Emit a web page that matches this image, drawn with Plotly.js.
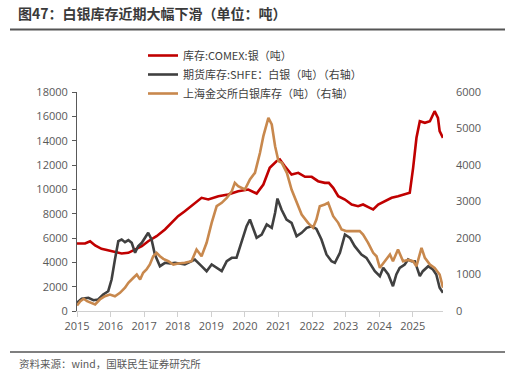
<!DOCTYPE html>
<html>
<head>
<meta charset="utf-8">
<script src="https://cdn.plot.ly/plotly-3.0.1.min.js"></script>
<style>
html,body{margin:0;padding:0;background:#fff;}
#chart{width:515px;height:376px;}
</style>
</head>
<body>
<div id="chart"></div>
<script>
// ---- Data (fractional years) ----
const comexX = [2015.0,2015.14,2015.24,2015.39,2015.54,2015.73,2015.93,2016.13,2016.33,2016.53,2016.73,2016.93,2017.12,2017.37,2017.62,2017.82,2018.01,2018.21,2018.51,2018.71,2018.91,2019.21,2019.5,2019.8,2020.1,2020.35,2020.55,2020.74,2020.94,2021.04,2021.19,2021.39,2021.59,2021.79,2021.99,2022.18,2022.38,2022.5,2022.63,2022.78,2022.98,2023.18,2023.37,2023.52,2023.72,2023.82,2023.97,2024.17,2024.37,2024.56,2024.76,2024.91,2025.01,2025.11,2025.21,2025.36,2025.51,2025.65,2025.75,2025.8,2025.9];
const comexY = [5550,5550,5550,5737,5383,5112,5003,4866,4726,4780,5055,5326,5737,6148,6698,7249,7792,8203,8893,9302,9164,9436,9575,9846,9986,9657,10397,11769,12312,12451,11900,11219,11358,11029,11029,10670,10534,10534,10123,9436,9164,8753,8615,8753,8480,8343,8753,9027,9302,9438,9575,9713,11769,14234,15600,15466,15600,16422,15877,14781,14234];

const shfeX = [2015.0,2015.14,2015.34,2015.49,2015.63,2015.78,2015.93,2016.03,2016.13,2016.23,2016.33,2016.43,2016.53,2016.63,2016.73,2016.82,2016.93,2017.02,2017.12,2017.22,2017.32,2017.47,2017.62,2017.77,2017.92,2018.21,2018.51,2018.71,2018.86,2019.01,2019.16,2019.31,2019.46,2019.61,2019.75,2019.9,2020.05,2020.15,2020.25,2020.35,2020.5,2020.65,2020.8,2020.9,2020.97,2021.09,2021.24,2021.39,2021.54,2021.69,2021.84,2021.99,2022.13,2022.28,2022.43,2022.58,2022.68,2022.83,2022.98,2023.13,2023.27,2023.47,2023.62,2023.77,2023.87,2024.02,2024.12,2024.27,2024.41,2024.51,2024.61,2024.76,2024.86,2024.96,2025.06,2025.21,2025.3,2025.46,2025.6,2025.7,2025.8,2025.9];
const shfeY = [225,334,362,296,315,452,542,863,1411,1912,1959,1885,1940,1868,1594,1775,1868,2005,2142,1959,1548,1228,1320,1300,1320,1274,1411,1228,1091,1274,1183,1091,1364,1457,1457,1868,2324,2507,2233,2005,2096,2370,2279,2690,3080,2781,2507,2416,2050,2142,2279,2324,2251,1959,1548,1364,1320,1594,2096,2005,1776,1548,1457,1228,1091,954,1183,1000,680,1000,1183,1274,1411,1364,1364,954,1091,1228,1137,1000,636,498];

const sgeX = [2015.0,2015.1,2015.2,2015.3,2015.54,2015.68,2015.83,2015.98,2016.13,2016.28,2016.43,2016.53,2016.68,2016.78,2016.88,2016.97,2017.07,2017.17,2017.27,2017.37,2017.47,2017.57,2017.72,2017.87,2018.01,2018.21,2018.41,2018.56,2018.71,2018.86,2019.01,2019.16,2019.31,2019.46,2019.61,2019.7,2019.8,2020.0,2020.15,2020.3,2020.45,2020.55,2020.7,2020.8,2020.9,2021.0,2021.1,2021.25,2021.39,2021.54,2021.69,2021.88,2022.03,2022.13,2022.23,2022.38,2022.48,2022.63,2022.78,2022.88,2023.03,2023.22,2023.42,2023.52,2023.67,2023.82,2023.92,2024.02,2024.17,2024.32,2024.41,2024.56,2024.71,2024.86,2025.01,2025.11,2025.26,2025.36,2025.51,2025.65,2025.8,2025.9];
const sgeY = [151,268,334,268,178,315,405,452,405,498,636,773,910,1000,863,1046,1137,1274,1500,1594,1500,1430,1364,1274,1300,1320,1364,1685,1502,1868,2416,2872,2964,3101,3283,3512,3420,3329,3603,3786,4334,4790,5293,5110,4516,4105,4060,3786,3329,2964,2644,2416,2279,2507,2872,2918,2964,2598,2416,2233,2187,2187,2187,2096,1868,1594,1500,1183,1364,1548,1364,1685,1364,1400,1364,1228,1731,1457,1274,1183,1000,636];

const yearTicks = [2015,2016,2017,2018,2019,2020,2021,2022,2023,2024,2025];
const seriesNames = ['库存:COMEX:银（吨）','期货库存:SHFE：白银（吨）（右轴）','上海金交所白银库存（吨）（右轴）'];

const FONT = '"Open Sans", "Noto Sans CJK SC", sans-serif';
const CJK = '"Noto Sans CJK SC", "Open Sans", sans-serif';

const traces = [
  {x: comexX, y: comexY, name: seriesNames[0], type: 'scatter', mode: 'lines',
   line: {color: '#C00000', width: 2.6}, yaxis: 'y'},
  {x: shfeX, y: shfeY, name: seriesNames[1], type: 'scatter', mode: 'lines',
   line: {color: '#404040', width: 2.6}, yaxis: 'y2'},
  {x: sgeX, y: sgeY, name: seriesNames[2], type: 'scatter', mode: 'lines',
   line: {color: '#C8884D', width: 2.6}, yaxis: 'y2'}
];

const L = 77, R = 443, T = 92, B = 311;
const px = v => (v - L) / (R - L);
const py = v => (B - v) / (B - T);

const layout = {
  width: 515, height: 376,
  margin: {l: 77, r: 72, t: 92, b: 65, pad: 0},
  paper_bgcolor: '#fff', plot_bgcolor: '#fff',
  font: {family: FONT, size: 11, color: '#595959'},
  title: {text: '<b>图47：白银库存近期大幅下滑（单位：吨）</b>', x: 18/515, xanchor: 'left',
          y: 1 - 14/376, yanchor: 'middle', yref: 'container',
          font: {family: CJK, size: 14, color: '#3a3a3a'}},
  showlegend: true,
  legend: {x: px(143), y: py(41), xanchor: 'left', yanchor: 'top', bgcolor: 'rgba(0,0,0,0)',
           font: {family: CJK, size: 11, color: '#404040'}, itemwidth: 30, tracegroupgap: 0,
           traceorder: 'normal'},
  xaxis: {range: [2015, 2025.9], tickvals: yearTicks, ticktext: yearTicks.map(String),
          showline: true, linecolor: '#d0d0d0', linewidth: 1, ticks: 'outside', tickcolor: '#d0d0d0',
          ticklen: 5, showgrid: false, zeroline: false, tickfont: {size: 11, color: '#595959'}},
  yaxis: {range: [0, 18000], dtick: 2000, tickformat: 'd', showline: true, linecolor: '#595959', linewidth: 1,
          ticks: 'outside', ticklen: 4, tickcolor: '#595959', showgrid: false, zeroline: false,
          ticklabelstandoff: 2, tickfont: {size: 11, color: '#595959'}},
  yaxis2: {range: [0, 6000], dtick: 1000, tickformat: 'd', overlaying: 'y', side: 'right', showline: false,
           ticks: '', showgrid: false, zeroline: false, ticklabelstandoff: 12,
           tickfont: {size: 11, color: '#595959'}},
  shapes: [
    {type: 'line', xref: 'paper', yref: 'paper', x0: px(10), x1: px(505), y0: py(29.5), y1: py(29.5),
     line: {color: '#555', width: 2}},
    {type: 'line', xref: 'paper', yref: 'paper', x0: px(10), x1: px(505), y0: py(352), y1: py(352),
     line: {color: '#555', width: 1.3}}
  ],
  annotations: [
    {text: '资料来源：wind，国联民生证券研究所', xref: 'paper', yref: 'paper', x: px(17), y: py(363),
     xanchor: 'left', yanchor: 'middle', showarrow: false,
     font: {family: CJK, size: 10.5, color: '#595959'}}
  ]
};

Plotly.newPlot('chart', traces, layout, {staticPlot: true, displayModeBar: false});
</script>
</body>
</html>
